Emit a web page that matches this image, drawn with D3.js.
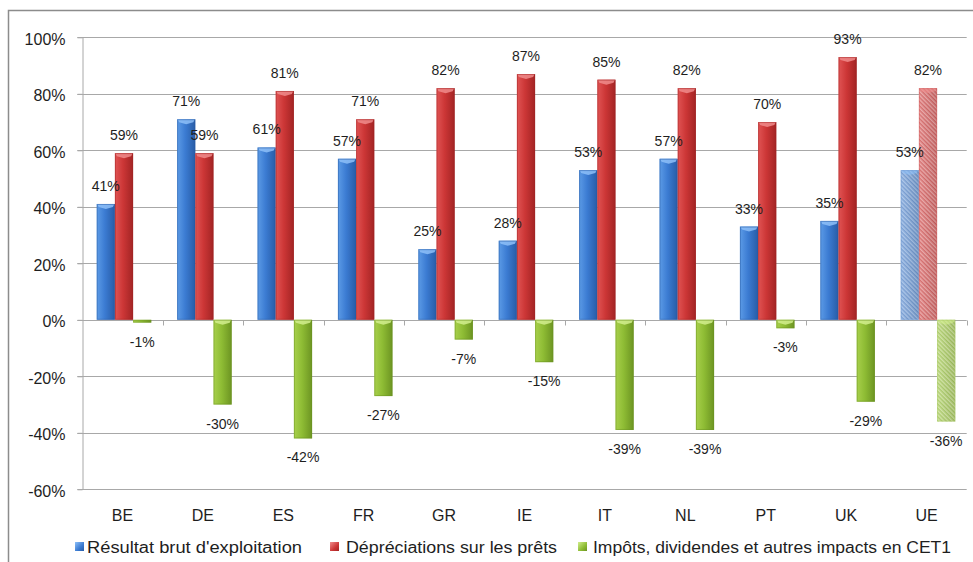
<!DOCTYPE html>
<html>
<head>
<meta charset="utf-8">
<script src="https://cdn.jsdelivr.net/npm/d3@7"></script>
<style>
  html, body { margin: 0; padding: 0; background: #fff; }
  svg { display: block; font-family: "Liberation Sans", Arial, sans-serif; }
</style>
</head>
<body>
<svg id="chart" width="973" height="562"></svg>
<script>
// Impact des composantes sur le ratio CET1, par pays
const categories = ["BE", "DE", "ES", "FR", "GR", "IE", "IT", "NL", "PT", "UK", "UE"];
const resultatBrut = [41, 71, 61, 57, 25, 28, 53, 57, 33, 35, 53];
const depreciations = [59, 59, 81, 71, 82, 87, 85, 82, 70, 93, 82];
const impots = [-1, -30, -42, -27, -7, -15, -39, -39, -3, -29, -36];
const seriesNames = [
  "Résultat brut d'exploitation",
  "Dépréciations sur les prêts",
  "Impôts, dividendes et autres impacts en CET1"
];
const yTicks = [100, 80, 60, 40, 20, 0, -20, -40, -60];
const aggregateCategory = "UE";

const seriesValues = [resultatBrut, depreciations, impots];
const palette = [
  { light: "#5c9be6", mid: "#3b7bd2", dark: "#285ca6", bevel: "#8ec0f8",
    hStripe: "#a8c5ec", hDark: "#7099d2" },
  { light: "#e05454", mid: "#cc3636", dark: "#a22424", bevel: "#f08c8c",
    hStripe: "#eea6a6", hDark: "#d46262" },
  { light: "#a8d04c", mid: "#8ebc34", dark: "#6c9422", bevel: "#d2ee8e",
    hStripe: "#d4e8a4", hDark: "#a8ca62" }
];

const svg = d3.select("#chart");
const plot = { left: 82.3, right: 966.7, top: 37.3, bottom: 489.3 };

const x0 = d3.scaleBand().domain(categories).range([plot.left, plot.right]).paddingInner(0);
const x1 = d3.scaleBand().domain(d3.range(3))
  .range([1.5, x0.bandwidth() + 1.5]).paddingInner(0).paddingOuter(0.71);
const y = d3.scaleLinear().domain([-60, 100]).range([plot.bottom, plot.top]);

// Outer frame
svg.append("rect")
  .attr("x", 8.5).attr("y", 10.5).attr("width", 1000).attr("height", 700)
  .attr("fill", "none").attr("stroke", "#8c8c8c").attr("stroke-width", 1.5);

// Gradients and hatch patterns
const defs = svg.append("defs");
palette.forEach((c, i) => {
  const g = defs.append("linearGradient").attr("id", "grad" + i)
    .attr("x1", "0%").attr("x2", "100%").attr("y1", "0%").attr("y2", "0%");
  g.append("stop").attr("offset", "0%").attr("stop-color", c.light);
  g.append("stop").attr("offset", "45%").attr("stop-color", c.mid);
  g.append("stop").attr("offset", "100%").attr("stop-color", c.dark);

  const p = defs.append("pattern").attr("id", "hatch" + i)
    .attr("patternUnits", "userSpaceOnUse").attr("width", 3).attr("height", 3)
    .attr("patternTransform", "rotate(-45)");
  p.append("rect").attr("width", 3).attr("height", 3).attr("fill", c.hDark);
  p.append("rect").attr("width", 1.5).attr("height", 3).attr("fill", c.hStripe);

  const lg = defs.append("linearGradient").attr("id", "legend" + i)
    .attr("x1", "0%").attr("x2", "100%").attr("y1", "0%").attr("y2", "100%");
  lg.append("stop").attr("offset", "0%").attr("stop-color", c.bevel);
  lg.append("stop").attr("offset", "60%").attr("stop-color", c.mid);
  lg.append("stop").attr("offset", "100%").attr("stop-color", c.dark);
});
const shade = defs.append("linearGradient").attr("id", "hatchShade")
  .attr("x1", "0%").attr("x2", "100%").attr("y1", "0%").attr("y2", "0%");
shade.append("stop").attr("offset", "0%").attr("stop-color", "#fff").attr("stop-opacity", 0.12);
shade.append("stop").attr("offset", "100%").attr("stop-color", "#000").attr("stop-opacity", 0.12);

// Horizontal gridlines
svg.append("g").selectAll("line").data(yTicks).join("line")
  .attr("x1", plot.left - 5).attr("x2", plot.right)
  .attr("y1", d => Math.round(y(d)) + 0.5).attr("y2", d => Math.round(y(d)) + 0.5)
  .attr("stroke", "#a8a8a8").attr("stroke-width", 1);

// Y axis
const yAxis = svg.append("g").attr("transform", `translate(${Math.round(plot.left) + 0.5},0)`)
  .call(d3.axisLeft(y).tickValues(yTicks).tickFormat(d => d + "%")
    .tickSize(5).tickSizeOuter(0).tickPadding(12));
yAxis.select(".domain").attr("stroke", "#a8a8a8");
yAxis.selectAll(".tick line").attr("stroke", "#a8a8a8");
yAxis.selectAll("text").attr("font-size", 16).attr("fill", "#1e1e1e")
  .attr("font-family", "'Liberation Sans', Arial, sans-serif").attr("dy", "0.42em");

// Category boundary ticks on the zero line
const zeroY = Math.round(y(0)) + 0.5;
svg.append("g").selectAll("line").data(categories.slice(1).concat(["__end"])).join("line")
  .attr("x1", (d, i) => Math.round(plot.left + (i + 1) * x0.step()) + 0.5)
  .attr("x2", (d, i) => Math.round(plot.left + (i + 1) * x0.step()) + 0.5)
  .attr("y1", zeroY).attr("y2", zeroY + 5)
  .attr("stroke", "#a8a8a8");

// Category labels
const xAxis = svg.append("g").attr("transform", `translate(0,${plot.bottom})`)
  .call(d3.axisBottom(x0).tickSize(0).tickPadding(20.3));
xAxis.select(".domain").remove();
xAxis.selectAll("text").attr("font-size", 16).attr("fill", "#1e1e1e")
  .attr("font-family", "'Liberation Sans', Arial, sans-serif");

// Bars
const barData = [];
categories.forEach((cat, ci) => {
  seriesValues.forEach((vals, si) => {
    barData.push({ cat, si, v: vals[ci], agg: cat === aggregateCategory });
  });
});

const bw = x1.bandwidth();
const bars = svg.append("g").selectAll("g").data(barData).join("g");

bars.append("rect")
  .attr("x", d => x0(d.cat) + x1(d.si))
  .attr("width", bw)
  .attr("y", d => y(Math.max(0, d.v)))
  .attr("height", d => Math.abs(y(d.v) - y(0)))
  .attr("fill", d => d.agg ? `url(#hatch${d.si})` : `url(#grad${d.si})`);

// Soft side shading on the hatched bars
bars.filter(d => d.agg).append("rect")
  .attr("x", d => x0(d.cat) + x1(d.si))
  .attr("width", bw)
  .attr("y", d => y(Math.max(0, d.v)))
  .attr("height", d => Math.abs(y(d.v) - y(0)))
  .attr("fill", "url(#hatchShade)");

// Bevel highlight at the top edge of each bar
bars.filter(d => Math.abs(y(d.v) - y(0)) > 4).append("path")
  .attr("d", d => {
    const xl = x0(d.cat) + x1(d.si), xr = xl + bw;
    const t = y(Math.max(0, d.v));
    return `M${xl + 0.5},${t} L${xr - 0.5},${t} L${xr - 2},${t + 3} L${(xl + xr) / 2},${t + 5} L${xl + 2},${t + 3} Z`;
  })
  .attr("fill", d => palette[d.si].bevel)
  .attr("opacity", d => d.agg ? 0.6 : 0.85);

// Darker rim around each bar
bars.append("rect")
  .attr("x", d => x0(d.cat) + x1(d.si) + 0.5)
  .attr("width", bw - 1)
  .attr("y", d => y(Math.max(0, d.v)) + 0.5)
  .attr("height", d => Math.max(0, Math.abs(y(d.v) - y(0)) - 1))
  .attr("fill", "none")
  .attr("stroke", d => d.agg ? palette[d.si].hDark : palette[d.si].dark)
  .attr("stroke-opacity", 0.5)
  .attr("stroke-width", 1);

// Value labels
svg.append("g").selectAll("text").data(barData).join("text")
  .attr("x", d => x0(d.cat) + x1(d.si) + bw / 2)
  .attr("y", d => d.v >= 0 ? y(d.v) - 13 : y(d.v) + 24)
  .attr("text-anchor", "middle")
  .attr("font-size", 14)
  .attr("fill", "#1e1e1e")
  .text(d => d.v + "%");

// Legend
const legendItems = [
  { marker: 75, text: 87, width: 215 },
  { marker: 330, text: 346, width: 211 },
  { marker: 578, text: 593, width: 358 }
];
const legend = svg.append("g").selectAll("g").data(seriesNames).join("g");
legend.append("rect")
  .attr("x", (d, i) => legendItems[i].marker).attr("y", 542)
  .attr("width", 9).attr("height", 9)
  .attr("fill", (d, i) => `url(#legend${i})`);
legend.append("text")
  .attr("x", (d, i) => legendItems[i].text).attr("y", 552.5)
  .attr("font-size", 16).attr("fill", "#1e1e1e")
  .attr("textLength", (d, i) => legendItems[i].width)
  .attr("lengthAdjust", "spacingAndGlyphs")
  .text(d => d);
</script>
</body>
</html>
